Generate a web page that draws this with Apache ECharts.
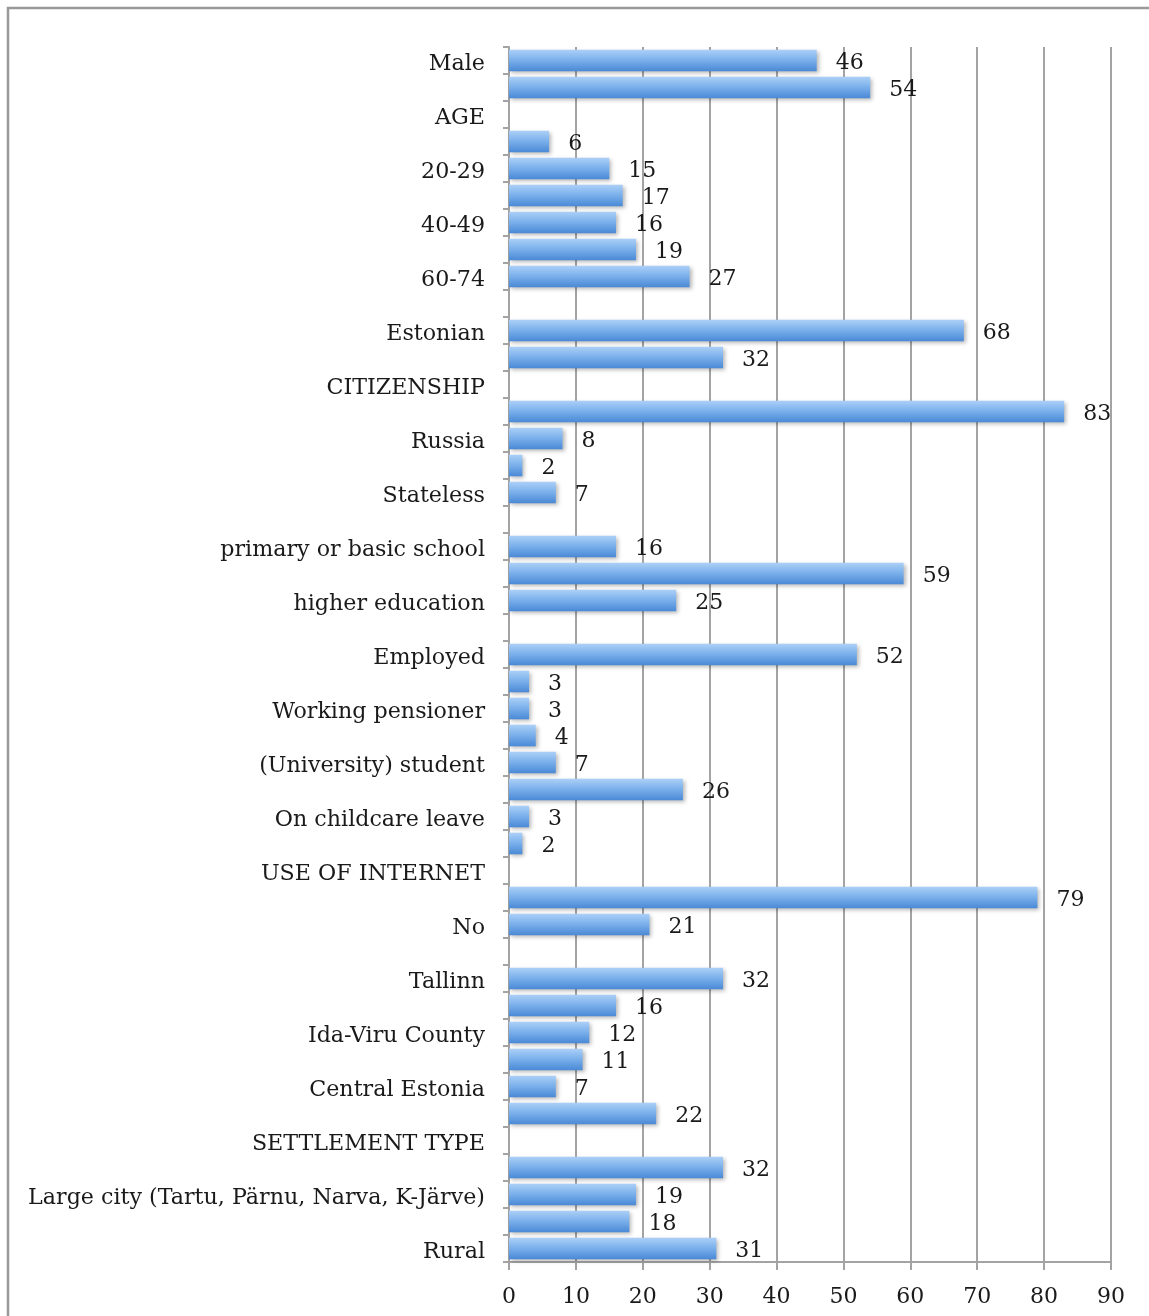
<!DOCTYPE html>
<html>
<head>
<meta charset="utf-8">
<script src="https://cdn.jsdelivr.net/npm/echarts@6/dist/echarts.min.js"></script>
<style>
  html, body { margin: 0; padding: 0; background: #fff; }
  #chart { width: 1149px; height: 1316px; }
</style>
</head>
<body>
<div id="chart"></div>
<script>
// Respondent profile, % of respondents per group (section headers have no value)
const categories = [
  'Male', 'Female',
  'AGE', '15-19', '20-29', '30-39', '40-49', '50-59', '60-74',
  'NATIONALITY', 'Estonian', 'Non-Estonian',
  'CITIZENSHIP', 'Estonia', 'Russia', 'Other', 'Stateless',
  'EDUCATION', 'primary or basic school', 'secondary education', 'higher education',
  'OCCUPATION', 'Employed', 'Entrepreneur', 'Working pensioner', 'Pupil',
  '(University) student', 'Pensioner', 'On childcare leave', 'Unemployed',
  'USE OF INTERNET', 'Yes', 'No',
  'REGION', 'Tallinn', 'North Estonia', 'Ida-Viru County', 'West Estonia',
  'Central Estonia', 'South Estonia',
  'SETTLEMENT TYPE', 'Capital', 'Large city (Tartu, Pärnu, Narva, K-Järve)',
  'Small town', 'Rural'
];

const shares = [
  46, 54,
  null, 6, 15, 17, 16, 19, 27,
  null, 68, 32,
  null, 83, 8, 2, 7,
  null, 16, 59, 25,
  null, 52, 3, 3, 4, 7, 26, 3, 2,
  null, 79, 21,
  null, 32, 16, 12, 11, 7, 22,
  null, 32, 19, 18, 31
];

const xTicks = { min: 0, max: 90, step: 10 };

const FONT = 'DejaVu Serif';
const GRID_GREY = '#a3a3a3';

const chart = echarts.init(document.getElementById('chart'), null, { renderer: 'canvas' });

chart.setOption({
  backgroundColor: '#ffffff',
  animation: false,
  graphic: [{
    type: 'rect',
    shape: { x: 8, y: 8, width: 1300, height: 1400 },
    style: { fill: 'none', stroke: '#999999', lineWidth: 2.5 },
    silent: true
  }],
  grid: { left: 509, right: 38, top: 47, bottom: 54, containLabel: false },
  xAxis: {
    type: 'value',
    min: xTicks.min,
    max: xTicks.max,
    interval: xTicks.step,
    axisLine: { show: true, lineStyle: { color: GRID_GREY, width: 2 } },
    axisTick: { show: true, length: 8, lineStyle: { color: GRID_GREY, width: 2 } },
    splitLine: { show: true, lineStyle: { color: GRID_GREY, width: 2 } },
    axisLabel: { fontFamily: FONT, fontSize: 22, color: '#1a1a1a', margin: 24 }
  },
  yAxis: {
    type: 'category',
    inverse: true,
    data: categories,
    axisLine: { show: true, lineStyle: { color: GRID_GREY, width: 2 } },
    axisTick: { show: true, interval: 0, length: 6, lineStyle: { color: GRID_GREY, width: 2 } },
    splitLine: { show: false },
    axisLabel: {
      interval: (i) => i % 2 === 0,
      margin: 24,
      formatter: (v) => '{t|' + v + '}',
      rich: {
        t: {
          fontFamily: FONT,
          fontSize: 22.2,
          color: '#1a1a1a',
          padding: [8, 0, 0, 0]
        }
      }
    }
  },
  series: [{
    type: 'bar',
    data: shares,
    barCategoryGap: '20%',
    itemStyle: {
      color: new echarts.graphic.LinearGradient(0, 0, 0, 1, [
        { offset: 0, color: '#acd0f7' },
        { offset: 0.45, color: '#7db2ec' },
        { offset: 1, color: '#4a89d6' }
      ]),
      shadowColor: 'rgba(0,0,0,0.28)',
      shadowBlur: 4,
      shadowOffsetX: 2,
      shadowOffsetY: 2
    },
    label: {
      show: true,
      position: 'right',
      distance: 19,
      offset: [0, 3],
      fontFamily: FONT,
      fontSize: 22,
      color: '#1a1a1a'
    }
  }]
});
</script>
</body>
</html>
